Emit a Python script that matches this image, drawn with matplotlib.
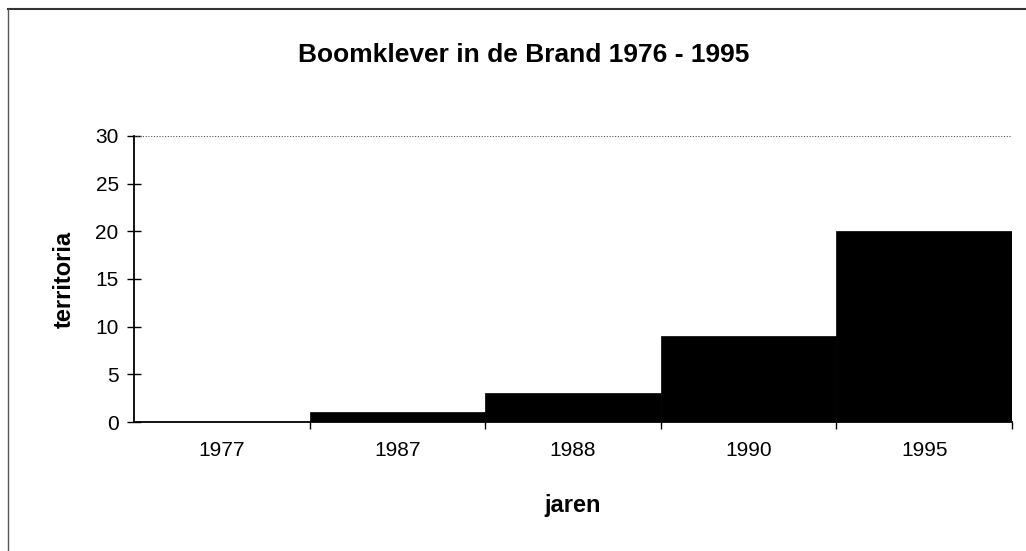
import matplotlib
matplotlib.use("Agg")
import matplotlib.pyplot as plt
from matplotlib.lines import Line2D

# data
years = ["1977", "1987", "1988", "1990", "1995"]
territoria = [0, 1, 3, 9, 20]

plt.rcParams['font.family'] = ['Liberation Sans', 'DejaVu Sans']

fig = plt.figure(figsize=(10.26, 5.51), dpi=100)
ax = fig.add_axes([0.1306, 0.2341, 0.8558, 0.5191])

x = list(range(len(years)))
ax.bar(x, territoria, width=1.0, color='black', edgecolor='black', linewidth=0.5)

ax.set_xlim(-0.5, len(years) - 0.5)
ax.set_ylim(0, 30)
ax.set_yticks([0, 5, 10, 15, 20, 25, 30])
ax.set_xticks(x)
ax.set_xticklabels(years)
ax.set_xticks([i + 0.5 for i in x], minor=True)
ax.tick_params(axis='x', which='major', length=0, pad=14, labelsize=15)
ax.tick_params(axis='x', which='minor', length=5, width=1, direction='out')
ax.tick_params(axis='y', which='major', length=10, width=1, direction='inout', pad=6, labelsize=15)

ax.axhline(30, color='#555555', linestyle=(0, (1, 1.5)), linewidth=0.8)

for side in ['top', 'right']:
    ax.spines[side].set_visible(False)
ax.spines['left'].set_linewidth(1.3)
ax.spines['bottom'].set_linewidth(1.3)

ax.set_ylabel("territoria", fontsize=17, fontweight='bold', labelpad=14)
ax.set_xlabel("jaren", fontsize=17, fontweight='bold', labelpad=24)
fig.text(0.51, 0.90, "Boomklever in de Brand 1976 - 1995", ha='center', va='center',
         fontsize=19, fontweight='bold')

# frame of the original chart (top and left edge visible in the scan)
fig.add_artist(Line2D([8 / 1026, 1.0], [1 - 9 / 551, 1 - 9 / 551], transform=fig.transFigure,
                      color='#333333', linewidth=1.5))
fig.add_artist(Line2D([8 / 1026, 8 / 1026], [0.0, 1 - 9 / 551], transform=fig.transFigure,
                      color='#555555', linewidth=1.0))

fig.savefig("out.png", dpi=100)
